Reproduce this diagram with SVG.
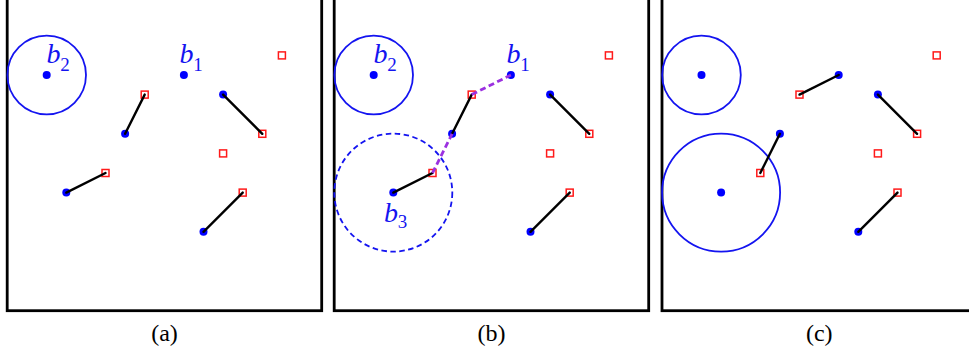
<svg xmlns="http://www.w3.org/2000/svg" width="969" height="356" viewBox="0 0 969 356">
<style>
.frame{fill:none;stroke:#000;stroke-width:2.8}
.dot{fill:#0000ff}
.sq{fill:none;stroke:#ff1a1a;stroke-width:1.5}
.ring{fill:none;stroke:#1414f0;stroke-width:1.8}
.dring{fill:none;stroke:#1414f0;stroke-width:1.8;stroke-dasharray:5.5 3.5}
.seg{stroke:#000;stroke-width:2.4;stroke-linecap:round}
.path{stroke:#9b30e0;stroke-width:2.8;stroke-dasharray:6 3.5}
</style>
<rect width="969" height="356" fill="#fff"/>

<!-- Panel (a) -->
<g id="panel-a">
  <rect class="frame" x="7.2" y="-10" width="314.5" height="320.7"/>
  <g id="a-b2"><circle class="ring" cx="46.7" cy="75" r="39.3"/><circle class="dot" cx="46.7" cy="75" r="4"/><text x="46.5" y="63.3" font-family="Liberation Serif, serif" font-style="italic" font-size="28" fill="#1414f0">b</text><text x="60.3" y="70.5" font-family="Liberation Serif, serif" font-size="19" fill="#1414f0">2</text></g>
  <g id="a-b1"><circle class="dot" cx="183.9" cy="75" r="4"/><text x="179.5" y="63.3" font-family="Liberation Serif, serif" font-style="italic" font-size="28" fill="#1414f0">b</text><text x="193.3" y="70.5" font-family="Liberation Serif, serif" font-size="19" fill="#1414f0">1</text></g>
  <g id="a-d2"><circle class="dot" cx="125.1" cy="133.8" r="4"/></g>
  <g id="a-d3"><circle class="dot" cx="223.1" cy="94.6" r="4"/></g>
  <g id="a-d5"><circle class="dot" cx="66.3" cy="192.6" r="4"/></g>
  <g id="a-d6"><circle class="dot" cx="203.5" cy="231.8" r="4"/></g>
  <g id="a-s1"><rect class="sq" x="278.4" y="51.9" width="7" height="7"/></g>
  <g id="a-s2"><rect class="sq" x="141.2" y="91.1" width="7" height="7"/></g>
  <g id="a-s3"><rect class="sq" x="258.8" y="130.3" width="7" height="7"/></g>
  <g id="a-s4"><rect class="sq" x="219.6" y="149.9" width="7" height="7"/></g>
  <g id="a-s5"><rect class="sq" x="102" y="169.5" width="7" height="7"/></g>
  <g id="a-s6"><rect class="sq" x="239.2" y="189.1" width="7" height="7"/></g>
  <text id="cap-a" x="164.5" y="341" font-family="Liberation Serif, serif" font-size="24" text-anchor="middle">(a)</text>
</g>

<!-- Panel (b) -->
<g id="panel-b" transform="translate(327,0)">
  <rect class="frame" x="7.2" y="-10" width="314.5" height="320.7"/>
  <g id="b-b2"><circle class="ring" cx="46.7" cy="75" r="39.3"/><circle class="dot" cx="46.7" cy="75" r="4"/><text x="46.5" y="63.3" font-family="Liberation Serif, serif" font-style="italic" font-size="28" fill="#1414f0">b</text><text x="60.3" y="70.5" font-family="Liberation Serif, serif" font-size="19" fill="#1414f0">2</text></g>
  <g id="b-b1"><circle class="dot" cx="183.9" cy="75" r="4"/><text x="179.5" y="63.3" font-family="Liberation Serif, serif" font-style="italic" font-size="28" fill="#1414f0">b</text><text x="193.3" y="70.5" font-family="Liberation Serif, serif" font-size="19" fill="#1414f0">1</text></g>
  <g id="b-b3"><circle class="dring" cx="66.3" cy="192.6" r="59"/><circle class="dot" cx="66.3" cy="192.6" r="4"/><text x="57" y="221.7" font-family="Liberation Serif, serif" font-style="italic" font-size="28" fill="#1414f0">b</text><text x="70.8" y="228.3" font-family="Liberation Serif, serif" font-size="19" fill="#1414f0">3</text></g>
  <g id="b-d2"><circle class="dot" cx="125.1" cy="133.8" r="4"/></g>
  <g id="b-d3"><circle class="dot" cx="223.1" cy="94.6" r="4"/></g>
  <g id="b-d6"><circle class="dot" cx="203.5" cy="231.8" r="4"/></g>
  <g id="b-s1"><rect class="sq" x="278.4" y="51.9" width="7" height="7"/></g>
  <g id="b-s2"><rect class="sq" x="141.2" y="91.1" width="7" height="7"/></g>
  <g id="b-s3"><rect class="sq" x="258.8" y="130.3" width="7" height="7"/></g>
  <g id="b-s4"><rect class="sq" x="219.6" y="149.9" width="7" height="7"/></g>
  <g id="b-s5"><rect class="sq" x="102" y="169.5" width="7" height="7"/></g>
  <g id="b-s6"><rect class="sq" x="239.2" y="189.1" width="7" height="7"/></g>
  <text id="cap-b" x="164.5" y="341" font-family="Liberation Serif, serif" font-size="24" text-anchor="middle">(b)</text>
</g>

<!-- Panel (c) -->
<g id="panel-c" transform="translate(654.8,0)">
  <rect class="frame" x="7.2" y="-10" width="314.5" height="320.7"/>
  <g id="c-b2"><circle class="ring" cx="46.7" cy="75" r="39.3"/><circle class="dot" cx="46.7" cy="75" r="4"/></g>
  <g id="c-b3"><circle class="ring" cx="66.3" cy="192.6" r="59"/><circle class="dot" cx="66.3" cy="192.6" r="4"/></g>
  <g id="c-b1"><circle class="dot" cx="183.9" cy="75" r="4"/></g>
  <g id="c-d2"><circle class="dot" cx="125.1" cy="133.8" r="4"/></g>
  <g id="c-d3"><circle class="dot" cx="223.1" cy="94.6" r="4"/></g>
  <g id="c-d6"><circle class="dot" cx="203.5" cy="231.8" r="4"/></g>
  <g id="c-s1"><rect class="sq" x="278.4" y="51.9" width="7" height="7"/></g>
  <g id="c-s2"><rect class="sq" x="141.2" y="91.1" width="7" height="7"/></g>
  <g id="c-s3"><rect class="sq" x="258.8" y="130.3" width="7" height="7"/></g>
  <g id="c-s4"><rect class="sq" x="219.6" y="149.9" width="7" height="7"/></g>
  <g id="c-s5"><rect class="sq" x="102" y="169.5" width="7" height="7"/></g>
  <g id="c-s6"><rect class="sq" x="239.2" y="189.1" width="7" height="7"/></g>
  <text id="cap-c" x="164.5" y="341" font-family="Liberation Serif, serif" font-size="24" text-anchor="middle">(c)</text>
</g>

<!-- Connectors -->
<g id="connectors">
  <g transform="translate(0,0)">
    <line class="seg" x1="125.1" y1="133.8" x2="144.7" y2="94.6"/>
    <line class="seg" x1="223.1" y1="94.6" x2="262.3" y2="133.8"/>
    <line class="seg" x1="66.3" y1="192.6" x2="105.5" y2="173"/>
    <line class="seg" x1="203.5" y1="231.8" x2="242.7" y2="192.6"/>
  </g>
  <g transform="translate(327,0)">
    <line class="seg" x1="125.1" y1="133.8" x2="144.7" y2="94.6"/>
    <line class="seg" x1="223.1" y1="94.6" x2="262.3" y2="133.8"/>
    <line class="seg" x1="66.3" y1="192.6" x2="105.5" y2="173"/>
    <line class="seg" x1="203.5" y1="231.8" x2="242.7" y2="192.6"/>
    <line class="path" x1="105.5" y1="173" x2="125.1" y2="133.8"/>
    <line class="path" x1="144.7" y1="94.6" x2="183.9" y2="75"/>
  </g>
  <g transform="translate(654.8,0)">
    <line class="seg" x1="183.9" y1="75" x2="144.7" y2="94.6"/>
    <line class="seg" x1="125.1" y1="133.8" x2="105.5" y2="173"/>
    <line class="seg" x1="223.1" y1="94.6" x2="262.3" y2="133.8"/>
    <line class="seg" x1="203.5" y1="231.8" x2="242.7" y2="192.6"/>
  </g>
</g>
</svg>
